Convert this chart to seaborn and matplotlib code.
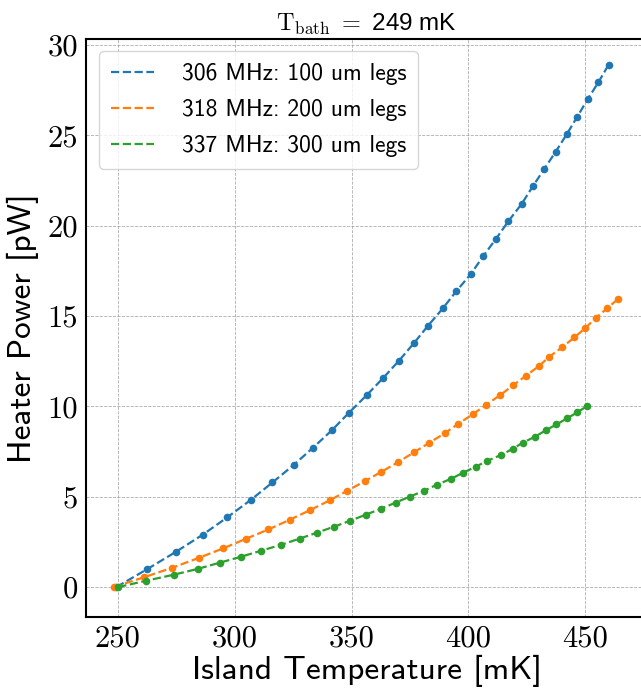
import matplotlib
matplotlib.use("Agg")
import matplotlib.pyplot as plt
import seaborn as sns

# Island temperature [mK] and heater power [pW]
t_100um = [249.5, 262.5, 274.8, 286.4, 296.9, 307.0, 316.2, 325.2, 333.5, 341.7, 348.9,
           356.4, 363.5, 370.3, 376.6, 382.6, 389.0, 394.8, 401.1, 406.3, 411.8, 417.0,
           422.8, 427.5, 432.4, 437.3, 442.0, 446.5, 450.9, 455.5, 459.9]
p_100um = [0.0, 0.98, 1.94, 2.90, 3.86, 4.83, 5.79, 6.75, 7.71, 8.69, 9.65,
           10.61, 11.57, 12.53, 13.49, 14.45, 15.42, 16.38, 17.34, 18.32, 19.28, 20.24,
           21.22, 22.18, 23.14, 24.10, 25.06, 26.03, 26.99, 27.93, 28.91]

t_200um = [248.3, 261.2, 273.4, 284.6, 295.1, 305.0, 314.5, 323.7, 332.3, 340.7, 348.2,
           355.8, 362.8, 370.0, 376.6, 383.3, 389.8, 395.7, 402.0, 407.6, 413.6, 419.0,
           424.6, 430.1, 434.6, 440.1, 445.3, 450.0, 454.4, 459.2, 463.9]
p_200um = [0.0, 0.54, 1.07, 1.61, 2.14, 2.68, 3.19, 3.73, 4.26, 4.80, 5.33,
           5.87, 6.38, 6.92, 7.45, 7.99, 8.51, 9.04, 9.58, 10.09, 10.63, 11.16,
           11.70, 12.23, 12.75, 13.28, 13.82, 14.34, 14.89, 15.42, 15.94]

t_300um = [250.3, 262.2, 273.9, 284.4, 293.7, 302.8, 311.3, 319.9, 327.8, 335.2, 342.5,
           349.4, 356.0, 362.7, 368.8, 374.8, 381.0, 386.4, 392.7, 397.7, 403.1, 408.1,
           414.1, 419.0, 423.2, 428.4, 433.0, 437.6, 442.2, 446.5, 450.5]
p_300um = [0.0, 0.35, 0.68, 1.01, 1.35, 1.68, 2.01, 2.34, 2.68, 3.01, 3.34,
           3.67, 4.00, 4.34, 4.67, 5.00, 5.33, 5.66, 6.00, 6.33, 6.66, 6.99,
           7.32, 7.66, 7.99, 8.32, 8.67, 9.00, 9.34, 9.67, 10.00]

labels = ["306 MHz: 100 um legs", "318 MHz: 200 um legs", "337 MHz: 300 um legs"]
colores = ["#1f77b4", "#ff7f0e", "#2ca02c"]
x_ticks = [250, 300, 350, 400, 450]
y_ticks = [0, 5, 10, 15, 20, 25, 30]

sns.set_style("white")
plt.rcParams["mathtext.fontset"] = "cm"
plt.rcParams["axes.unicode_minus"] = False
plt.rcParams["text.color"] = "black"
plt.rcParams["axes.labelcolor"] = "black"

fig = plt.figure(figsize=(6.41, 6.94), dpi=100)
ax = fig.add_axes([0.1346, 0.1114, 0.8747, 0.8328])

series = [(t_100um, p_100um), (t_200um, p_200um), (t_300um, p_300um)]
for (t, p), lab, c in zip(series, labels, colores):
    sns.scatterplot(x=t, y=p, ax=ax, color=c, s=30, linewidth=0, zorder=3, legend=False)
    sns.lineplot(x=t, y=p, ax=ax, color=c, linestyle="--", linewidth=1.6,
                 label=lab, zorder=2)

ax.set_xlim(236.6, 476.3)
ax.set_ylim(-1.64, 30.35)
ax.set_xticks(x_ticks)
ax.set_yticks(y_ticks)
ax.set_xticklabels([str(v) for v in x_ticks], fontfamily="cmr10", fontsize=22)
ax.set_yticklabels([str(v) for v in y_ticks], fontfamily="cmr10", fontsize=22)
ax.tick_params(direction="in", length=6, width=1.2, colors="black", pad=6)

for s in ax.spines.values():
    s.set_linewidth(1.5)
    s.set_color("black")

ax.grid(True, linestyle="--", linewidth=0.6, color="0.6", alpha=0.8)

ax.set_xlabel("Island Temperature [mK]", fontfamily="cmss10", fontsize=24, labelpad=2)
ax.set_ylabel("Heater Power [pW]", fontfamily="cmss10", fontsize=24, labelpad=6)
ax.set_title(r"$\mathrm{T_{bath}}\ =$ 249 mK", fontfamily="Liberation Sans", fontsize=17.5)

ax.legend(loc="upper left", prop={"family": "cmss10", "size": 17}, frameon=True,
          handlelength=1.83, handletextpad=1.19, labelspacing=0.6,
          borderpad=0.5, borderaxespad=0.53)

fig.savefig("out.png", dpi=100)
